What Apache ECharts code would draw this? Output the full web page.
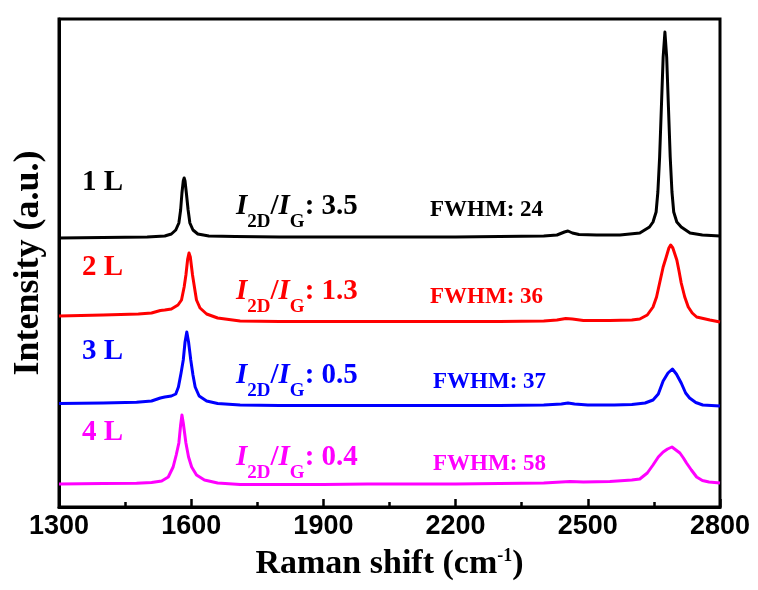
<!DOCTYPE html>
<html>
<head>
<meta charset="utf-8">
<script src="https://cdn.jsdelivr.net/npm/echarts@6/dist/echarts.min.js"></script>
<style>html,body{margin:0;padding:0;background:#fff;}#c{width:758px;height:590px;}</style>
</head>
<body>
<div id="c"></div>
<script>
// x: Raman shift (cm^-1), y: intensity (a.u., stacked offsets)
const xTicks = [1300, 1600, 1900, 2200, 2500, 2800];
const layerNames = ['1 L', '2 L', '3 L', '4 L'];
const layerColors = ['#000000', '#ff0000', '#0000ff', '#ff00ff'];
const ratioLabels = ['3.5', '1.3', '0.5', '0.4'];
const fwhmLabels = ['24', '36', '37', '58'];

const spec1L = [[1300,269],[1400,269.5],[1500,270],[1540,271],[1555,273],[1565,277],[1572,284],[1576,297],[1579,314],[1582,326],[1584,329],[1586,326],[1589,314],[1593,297],[1597,284],[1604,277],[1615,273],[1640,271],[1700,270.5],[1800,270],[1900,270],[2000,270],[2100,270],[2200,270],[2300,270.5],[2400,271],[2430,272],[2447,275],[2455,276],[2465,274],[2480,272.5],[2520,272],[2573,272],[2618,274],[2640,280],[2648,285],[2655,295],[2659,315],[2663,350],[2667,400],[2671,450],[2675,475],[2679,450],[2683,400],[2687,350],[2691,315],[2695,295],[2702,285],[2712,280],[2732,274],[2760,272],[2800,271]];
const spec2L = [[1300,191],[1400,192],[1480,193],[1510,194],[1530,196.5],[1540,197],[1555,198],[1570,202],[1578,207],[1584,220],[1588,232],[1592,248],[1595,254],[1598,250],[1603,232],[1608,218],[1612,207],[1620,199],[1635,193],[1660,189],[1711,186],[1800,185.5],[1900,185.5],[2000,185.5],[2100,185.5],[2200,185.5],[2300,185.5],[2400,186],[2430,187],[2450,188.5],[2465,188],[2490,186.5],[2550,186.5],[2600,187],[2618,188],[2635,192],[2648,200],[2656,210],[2663,224],[2671,240],[2678,250],[2684,259],[2688,262],[2693,259],[2702,247],[2707,236],[2712,224],[2720,210],[2728,200],[2737,194],[2747,190],[2777,187],[2800,185]];
const spec3L = [[1300,103.5],[1400,104],[1476,104.7],[1510,106],[1530,109],[1540,110],[1555,111],[1565,113],[1571,120],[1577,134],[1582,147],[1586,165],[1590,175],[1594,165],[1599,147],[1604,132],[1609,120],[1618,111],[1635,106],[1660,103.5],[1711,102],[1800,101.5],[1900,101.5],[2000,101.5],[2100,101.5],[2200,101.5],[2300,101.5],[2400,102],[2440,103],[2455,104],[2470,103],[2500,102],[2560,102],[2600,102.5],[2630,104],[2648,107],[2660,113],[2671,126],[2682,134],[2692,138],[2701,133],[2712,124],[2722,114],[2731,109],[2745,104.5],[2761,102],[2800,101]];
const spec4L = [[1300,23],[1400,23.5],[1476,23.7],[1510,24.5],[1533,26],[1548,30],[1559,40],[1566,52],[1572,64],[1576,82],[1579,92],[1582,84],[1588,64],[1594,50],[1601,40],[1612,32],[1630,27],[1660,24],[1711,22.5],[1800,22.5],[1900,22.5],[2000,23],[2100,23],[2200,23],[2300,23.5],[2400,24],[2440,25],[2460,25.5],[2490,25],[2550,25.5],[2600,27],[2618,28],[2635,34],[2648,42],[2660,50],[2671,55],[2681,58],[2691,60],[2700,57],[2709,54],[2717,49],[2724,44],[2735,37],[2747,30],[2760,26.5],[2775,25],[2800,24]];

const spectra = [spec1L, spec2L, spec3L, spec4L];

const chart = echarts.init(document.getElementById('c'), null, {renderer: 'canvas'});
const serif = '"Liberation Serif", "Times New Roman", serif';
const sans = '"Liberation Sans", Arial, sans-serif';

// annotation placement (pixels)
const layerY = [183, 268, 352, 433];
const ratioY = [212, 297, 381, 463];
const fwhmPos = [[430, 210], [430, 297], [433, 382], [433, 464]];

const graphics = [];
layerNames.forEach((n, i) => {
  const col = layerColors[i];
  graphics.push({type: 'text', x: 82, y: layerY[i], style: {text: n, fill: col, font: 'bold 29px ' + serif, verticalAlign: 'middle', align: 'left'}});
  graphics.push({type: 'text', x: 236, y: ratioY[i], style: {
    text: '{i|I}{s|2D}{n|/}{i|I}{s|G}{n|: ' + ratioLabels[i] + '}',
    fill: col, verticalAlign: 'middle', align: 'left',
    rich: {
      i: {fontSize: 29, fontStyle: 'italic', fontWeight: 'bold', fontFamily: serif, fill: col, padding: [0, 0, 10, 0], verticalAlign: 'bottom'},
      n: {fontSize: 29, fontWeight: 'bold', fontFamily: serif, fill: col, padding: [0, 0, 10, 0], verticalAlign: 'bottom'},
      s: {fontSize: 19, fontWeight: 'bold', fontFamily: serif, fill: col, verticalAlign: 'bottom'}
    }
  }});
  graphics.push({type: 'text', x: fwhmPos[i][0], y: fwhmPos[i][1], style: {text: 'FWHM: ' + fwhmLabels[i], fill: col, font: 'bold 23px ' + serif, verticalAlign: 'middle', align: 'left'}});
});

chart.setOption({
  backgroundColor: '#ffffff',
  animation: false,
  grid: {left: 59, right: 38, top: 19, bottom: 83, show: true, borderColor: '#000', borderWidth: 3, backgroundColor: 'transparent'},
  xAxis: {
    type: 'value', min: xTicks[0], max: xTicks[xTicks.length - 1], interval: 300,
    axisLine: {show: true, lineStyle: {color: '#000', width: 3}},
    axisTick: {show: true, inside: true, length: 8, lineStyle: {color: '#000', width: 2.5}},
    minorTick: {show: true, splitNumber: 2, length: 5, lineStyle: {color: '#000', width: 2.5}},
    splitLine: {show: false},
    axisLabel: {color: '#000', fontFamily: sans, fontWeight: 'bold', fontSize: 27, margin: 6, formatter: v => String(v)},
    name: '{a|Raman shift (cm}{s|-1}{a|)}',
    nameLocation: 'middle', nameGap: 40,
    nameTextStyle: {
      rich: {
        a: {fontSize: 34, fontWeight: 'bold', fontFamily: serif, color: '#000', verticalAlign: 'bottom'},
        s: {fontSize: 18, fontWeight: 'bold', fontFamily: serif, color: '#000', verticalAlign: 'bottom', padding: [0, 0, 16, 0]}
      }
    }
  },
  yAxis: {
    type: 'value', min: 0, max: 488,
    axisLine: {show: true, lineStyle: {color: '#000', width: 3}},
    axisTick: {show: false}, axisLabel: {show: false}, splitLine: {show: false},
    name: 'Intensity (a.u.)', nameLocation: 'middle', nameGap: 12,
    nameTextStyle: {fontSize: 36, fontWeight: 'bold', fontFamily: serif, color: '#000'}
  },
  series: spectra.map((d, i) => ({
    type: 'line', name: layerNames[i], data: d, showSymbol: false, symbol: 'none',
    smooth: false,
    lineStyle: {color: layerColors[i], width: 3, join: 'round'}, z: 3
  })),
  graphic: graphics
});
</script>
</body>
</html>
